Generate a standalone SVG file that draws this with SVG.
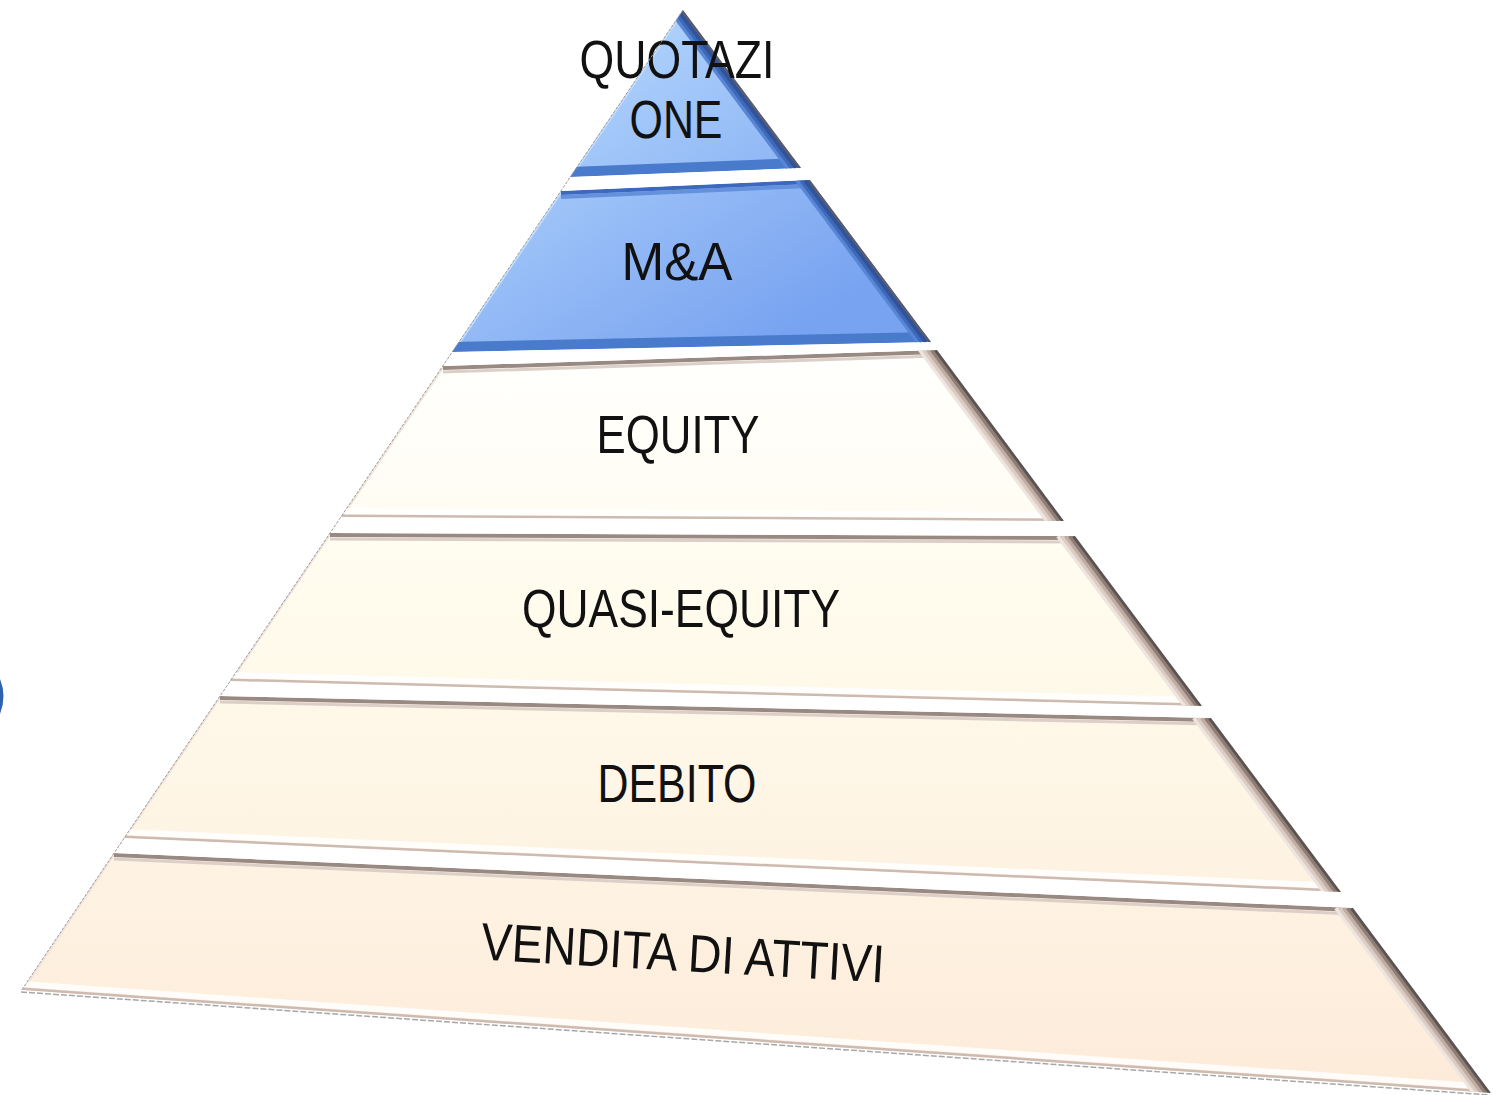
<svg xmlns="http://www.w3.org/2000/svg" width="1493" height="1095" viewBox="0 0 1493 1095">
<style>
.lbl{font-family:"Liberation Sans",Arial,sans-serif;font-size:53px;fill:#111;}
.rOut{stroke:#5b5350;stroke-width:4;fill:none}
.rB1{stroke:#8e7d76;stroke-width:4;fill:none}
.rB2{stroke:#c0aca2;stroke-width:4;fill:none}
.rB3{stroke:#dbccc4;stroke-width:4;fill:none}
.rB4{stroke:#eee5df;stroke-width:4;fill:none}
.bOut{stroke:#5a5a68;stroke-width:3;fill:none}
.bB1{stroke:#30539a;stroke-width:4;fill:none}
.bB2{stroke:#3e68b8;stroke-width:4;fill:none}
.bB3{stroke:#5886d4;stroke-width:4;fill:none}
.topC{stroke:#998983;stroke-width:4;fill:none}
.topC2{stroke:#dccfc8;stroke-width:3;fill:none}
.botC{stroke:#cdbbb1;stroke-width:3;fill:none}
.botW{stroke:#ffffff;stroke-width:6;fill:none;opacity:0.85}
.leftC{stroke:#f1e4dc;stroke-width:4;fill:none}
.topB{stroke:#3c69bb;stroke-width:4;fill:none}
.topB2{stroke:#6591dc;stroke-width:4;fill:none}
.botB{stroke:#4a7acc;stroke-width:10;fill:none}
.leftB{stroke:#c4ddfd;stroke-width:4;fill:none}
</style>
<defs>
<linearGradient id="gBlue" gradientUnits="userSpaceOnUse" x1="560" y1="30" x2="760" y2="350">
<stop offset="0" stop-color="#b5d7fd"/>
<stop offset="1" stop-color="#78a3f0"/>
</linearGradient>
<linearGradient id="gCream" gradientUnits="userSpaceOnUse" x1="0" y1="360" x2="0" y2="1090">
<stop offset="0" stop-color="#fffffd"/>
<stop offset="0.35" stop-color="#fffbec"/>
<stop offset="0.65" stop-color="#fef4e4"/>
<stop offset="1" stop-color="#fdebd9"/>
</linearGradient>
<clipPath id="c1"><polygon points="683,10 801,168 570,177"/></clipPath>
<clipPath id="c2"><polygon points="561,191 810,180 931,342 452,352"/></clipPath>
<clipPath id="c3"><polygon points="443,366 937,350 1064,521 341,517"/></clipPath>
<clipPath id="c4"><polygon points="330,533 1075,536 1202,706 230,681"/></clipPath>
<clipPath id="c5"><polygon points="220,696 1211,718 1341,892 124,838"/></clipPath>
<clipPath id="c6"><polygon points="114,853 1353,908 1491,1093 22,990"/></clipPath>
</defs>
<rect width="1493" height="1095" fill="#ffffff"/>

<g id="left-mark"><path d="M0,679 Q7,696 0,714 Z" fill="#3060b0"/></g>

<g id="layer-quotazione">
<g clip-path="url(#c1)">
<polygon points="683,10 801,168 570,177" fill="url(#gBlue)"/>
<line x1="683" y1="10" x2="570" y2="177" class="leftB"/>
<line x1="570" y1="172" x2="801" y2="163" class="botB"/>
<line x1="670" y1="10" x2="788" y2="168" class="bB3"/>
<line x1="674" y1="10" x2="792" y2="168" class="bB2"/>
<line x1="678" y1="10" x2="796" y2="168" class="bB1"/>
<line x1="682" y1="10" x2="800" y2="168" class="bOut"/>
</g>
<text class="lbl"><tspan x="677" y="78" text-anchor="middle" textLength="195" lengthAdjust="spacingAndGlyphs">QUOTAZI</tspan><tspan x="676" y="138" text-anchor="middle" textLength="93" lengthAdjust="spacingAndGlyphs">ONE</tspan></text>
</g>

<g id="layer-ma">
<g clip-path="url(#c2)">
<polygon points="561,191 810,180 931,342 452,352" fill="url(#gBlue)"/>
<line x1="561" y1="191" x2="452" y2="352" class="leftB"/>
<line x1="561" y1="193" x2="810" y2="182" class="topB"/>
<line x1="561" y1="197" x2="810" y2="186" class="topB2"/>
<line x1="452" y1="347" x2="931" y2="337" class="botB"/>
<line x1="797" y1="180" x2="918" y2="342" class="bB3"/>
<line x1="801" y1="180" x2="922" y2="342" class="bB2"/>
<line x1="805" y1="180" x2="926" y2="342" class="bB1"/>
<line x1="809" y1="180" x2="930" y2="342" class="bOut"/>
</g>
<text class="lbl" x="677" y="280" text-anchor="middle" textLength="111" lengthAdjust="spacingAndGlyphs">M&amp;A</text>
</g>

<g id="layer-equity">
<g clip-path="url(#c3)">
<polygon points="443,366 937,350 1064,521 341,517" fill="url(#gCream)"/>
<line x1="443" y1="366" x2="341" y2="517" class="leftC"/>
<line x1="443" y1="368" x2="937" y2="352" class="topC"/>
<line x1="443" y1="372" x2="937" y2="356" class="topC2"/>
<line x1="341" y1="511" x2="1064" y2="515" class="botW"/>
<line x1="341" y1="516" x2="1064" y2="520" class="botC"/>
<line x1="920" y1="350" x2="1047" y2="521" class="rB4"/>
<line x1="924" y1="350" x2="1051" y2="521" class="rB3"/>
<line x1="928" y1="350" x2="1055" y2="521" class="rB2"/>
<line x1="932" y1="350" x2="1059" y2="521" class="rB1"/>
<line x1="936" y1="350" x2="1063" y2="521" class="rOut"/>
</g>
<text class="lbl" x="678" y="453" text-anchor="middle" textLength="163" lengthAdjust="spacingAndGlyphs">EQUITY</text>
</g>

<g id="layer-quasi-equity">
<g clip-path="url(#c4)">
<polygon points="330,533 1075,536 1202,706 230,681" fill="url(#gCream)"/>
<line x1="330" y1="533" x2="230" y2="681" class="leftC"/>
<line x1="330" y1="535" x2="1075" y2="538" class="topC"/>
<line x1="330" y1="539" x2="1075" y2="542" class="topC2"/>
<line x1="230" y1="675" x2="1202" y2="700" class="botW"/>
<line x1="230" y1="680" x2="1202" y2="705" class="botC"/>
<line x1="1058" y1="536" x2="1185" y2="706" class="rB4"/>
<line x1="1062" y1="536" x2="1189" y2="706" class="rB3"/>
<line x1="1066" y1="536" x2="1193" y2="706" class="rB2"/>
<line x1="1070" y1="536" x2="1197" y2="706" class="rB1"/>
<line x1="1074" y1="536" x2="1201" y2="706" class="rOut"/>
</g>
<text class="lbl" x="681" y="627" text-anchor="middle" textLength="318" lengthAdjust="spacingAndGlyphs">QUASI-EQUITY</text>
</g>

<g id="layer-debito">
<g clip-path="url(#c5)">
<polygon points="220,696 1211,718 1341,892 124,838" fill="url(#gCream)"/>
<line x1="220" y1="696" x2="124" y2="838" class="leftC"/>
<line x1="220" y1="698" x2="1211" y2="720" class="topC"/>
<line x1="220" y1="702" x2="1211" y2="724" class="topC2"/>
<line x1="124" y1="832" x2="1341" y2="886" class="botW"/>
<line x1="124" y1="837" x2="1341" y2="891" class="botC"/>
<line x1="1194" y1="718" x2="1324" y2="892" class="rB4"/>
<line x1="1198" y1="718" x2="1328" y2="892" class="rB3"/>
<line x1="1202" y1="718" x2="1332" y2="892" class="rB2"/>
<line x1="1206" y1="718" x2="1336" y2="892" class="rB1"/>
<line x1="1210" y1="718" x2="1340" y2="892" class="rOut"/>
</g>
<text class="lbl" x="677" y="802" text-anchor="middle" textLength="159" lengthAdjust="spacingAndGlyphs">DEBITO</text>
</g>

<g id="layer-vendita">
<g clip-path="url(#c6)">
<polygon points="114,853 1353,908 1491,1093 22,990" fill="url(#gCream)"/>
<line x1="114" y1="853" x2="22" y2="990" class="leftC"/>
<line x1="114" y1="855" x2="1353" y2="910" class="topC"/>
<line x1="114" y1="859" x2="1353" y2="914" class="topC2"/>
<line x1="22" y1="984" x2="1491" y2="1087" class="botW"/>
<line x1="22" y1="989" x2="1491" y2="1092" class="botC"/>
<line x1="1336" y1="908" x2="1474" y2="1093" class="rB4"/>
<line x1="1340" y1="908" x2="1478" y2="1093" class="rB3"/>
<line x1="1344" y1="908" x2="1482" y2="1093" class="rB2"/>
<line x1="1348" y1="908" x2="1486" y2="1093" class="rB1"/>
<line x1="1352" y1="908" x2="1490" y2="1093" class="rOut"/>
</g>
<text class="lbl" transform="translate(682,971) rotate(3.27)" x="0" y="0" text-anchor="middle" textLength="404" lengthAdjust="spacingAndGlyphs">VENDITA DI ATTIVI</text>
</g>

<g id="connectors" fill="none">
<line x1="683" y1="10" x2="21" y2="991" stroke="#9a9a9a" stroke-width="1" stroke-dasharray="3 1.5"/>
<line x1="21" y1="992" x2="1490" y2="1095" stroke="#a7a7a7" stroke-width="1.5" stroke-dasharray="6 2"/>
</g>
</svg>
